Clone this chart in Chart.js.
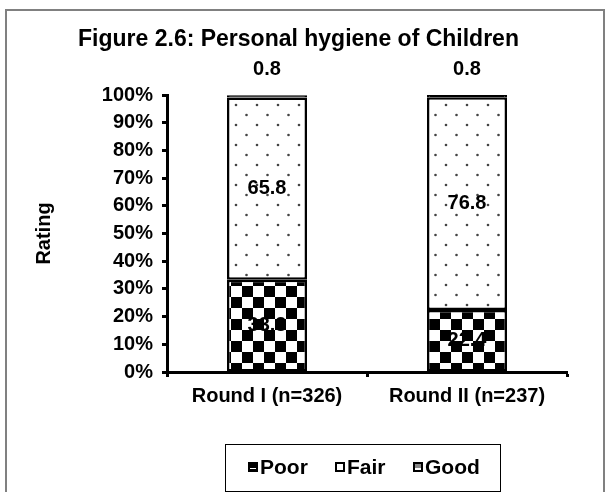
<!DOCTYPE html>
<html>
<head>
<meta charset="utf-8">
<script src="https://cdn.jsdelivr.net/npm/chart.js@4.4.1/dist/chart.umd.min.js"></script>
<style>
  body { margin: 0; background: #fff; }
  #wrap { position: absolute; left: 0; top: 0; width: 607px; height: 492px; }
</style>
</head>
<body>
<div id="wrap"><canvas id="chart" width="607" height="492"></canvas></div>
<script>
// chart data
var categories = ['Round I (n=326)', 'Round II (n=237)'];
var seriesNames = ['Poor', 'Fair', 'Good'];
var poorValues = [33.3, 22.4];
var fairValues = [65.8, 76.8];
var goodValues = [0.8, 0.8];
var yTicks = [0, 10, 20, 30, 40, 50, 60, 70, 80, 90, 100];

var FONT = 'Arial, "Liberation Sans", sans-serif';

// checkerboard pattern for Poor
function makeChecker() {
    var c = document.createElement('canvas');
    c.width = 22; c.height = 22;
    var g = c.getContext('2d');
    g.fillStyle = '#fff';
    g.fillRect(0, 0, 22, 22);
    g.fillStyle = '#000';
    g.fillRect(0, 0, 11, 11);
    g.fillRect(11, 11, 11, 11);
    return g.createPattern(c, 'repeat');
}

// sparse dot pattern for Fair
function makeDots() {
    var c = document.createElement('canvas');
    c.width = 21; c.height = 20;
    var g = c.getContext('2d');
    g.fillStyle = '#fff';
    g.fillRect(0, 0, 21, 20);
    g.fillStyle = '#444';
    g.beginPath(); g.arc(5, 5, 1.3, 0, Math.PI * 2); g.fill();
    g.beginPath(); g.arc(15.5, 15, 1.3, 0, Math.PI * 2); g.fill();
    return g.createPattern(c, 'repeat');
}

var ctx = document.getElementById('chart').getContext('2d');
var fills = [makeChecker(), makeDots(), '#000'];

// outer frame, data labels and legend box
var decorPlugin = {
    id: 'decor',
    beforeDraw: function(chart) {
        var c = chart.ctx;
        c.save();
        c.fillStyle = '#fff';
        c.fillRect(0, 0, chart.width, chart.height);
        c.strokeStyle = '#808080';
        c.lineWidth = 2;
        c.strokeRect(6, 10, 598, 500);
        c.restore();
    },
    afterDatasetsDraw: function(chart) {
        var c = chart.ctx;
        c.save();
        c.font = 'bold 20px ' + FONT;
        c.fillStyle = '#000';
        c.textAlign = 'center';
        c.textBaseline = 'middle';
        chart.data.datasets.forEach(function(ds, di) {
            var meta = chart.getDatasetMeta(di);
            meta.data.forEach(function(bar, i) {
                var v = ds.data[i];
                if (di === 2) {
                    c.fillText(String(v), bar.x, bar.y - 26);
                } else {
                    c.fillText(String(v), bar.x, (bar.y + bar.base) / 2);
                }
            });
        });
        c.restore();
    },
    afterDraw: function(chart) {
        var c = chart.ctx;
        c.save();
        c.strokeStyle = '#000';
        c.lineWidth = 1;
        c.strokeRect(225.5, 444.5, 275, 47);
        c.font = 'bold 21px ' + FONT;
        c.textBaseline = 'middle';
        c.textAlign = 'left';
        var keyX = [248, 335, 413], y = 467;
        seriesNames.forEach(function(name, i) {
            var x = keyX[i];
            // legend key
            c.fillStyle = '#fff';
            c.fillRect(x, y - 5, 10, 10);
            if (i === 0) {
                c.fillStyle = '#000';
                c.fillRect(x, y - 5, 10, 10);
                c.fillStyle = '#fff';
                c.fillRect(x + 2, y + 1, 6, 1);
            } else if (i === 2) {
                c.fillStyle = '#888';
                c.fillRect(x + 2, y - 3, 6, 4);
            }
            c.lineWidth = 2;
            c.strokeStyle = '#000';
            c.strokeRect(x + 1, y - 4, 8, 8);
            c.fillStyle = '#000';
            c.fillText(name, x + 12, y + 1);
        });
        c.restore();
    }
};

new Chart(ctx, {
    type: 'bar',
    data: {
        labels: categories,
        datasets: [
            { label: seriesNames[0], data: poorValues, backgroundColor: fills[0], borderWidth: 2.5 },
            { label: seriesNames[1], data: fairValues, backgroundColor: fills[1], borderWidth: 2.5 },
            { label: seriesNames[2], data: goodValues, backgroundColor: fills[2],
              borderWidth: { top: 2.5, left: 2.5, right: 2.5, bottom: 0 } }
        ].map(function(ds) {
            ds.borderColor = '#000';
            ds.borderSkipped = false;
            ds.barPercentage = 0.4;
            ds.categoryPercentage = 1;
            return ds;
        })
    },
    options: {
        responsive: false,
        animation: false,
        layout: { padding: { top: 14, left: 30, right: 40, bottom: 84 } },
        plugins: {
            legend: { display: false },
            tooltip: { enabled: false },
            title: {
                display: true,
                text: 'Figure 2.6: Personal hygiene of Children',
                color: '#000',
                font: { family: FONT, size: 23, weight: 'bold' },
                padding: { top: 12, bottom: 41.4 }
            }
        },
        scales: {
            x: {
                stacked: true,
                offset: true,
                grid: { offset: true, drawOnChartArea: false, tickLength: 5, tickWidth: 3, tickColor: '#000' },
                border: { color: '#000', width: 3 },
                ticks: { color: '#000', padding: 7, font: { family: FONT, size: 20, weight: 'bold' } },
                afterFit: function(s) { s.height = 36; }
            },
            y: {
                stacked: true,
                min: 0,
                max: 100,
                afterBuildTicks: function(s) { s.ticks = yTicks.map(function(v) { return { value: v }; }); },
                grid: { drawOnChartArea: false, tickLength: 5, tickWidth: 3, tickColor: '#000' },
                border: { color: '#000', width: 3 },
                ticks: {
                    color: '#000',
                    padding: 9,
                    font: { family: FONT, size: 20, weight: 'bold' },
                    callback: function(v) { return v + '%'; }
                },
                title: {
                    display: true,
                    text: 'Rating',
                    color: '#000',
                    padding: { top: 2, bottom: 0 },
                    font: { family: FONT, size: 20, weight: 'bold' }
                },
                afterFit: function(s) { s.width = 137; }
            }
        }
    },
    plugins: [decorPlugin]
});
</script>
</body>
</html>
